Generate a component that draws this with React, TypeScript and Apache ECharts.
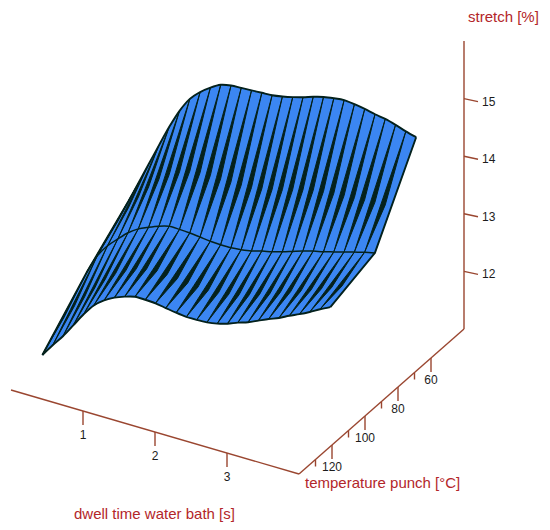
import React, { useEffect, useRef } from "react";
import * as echarts from "echarts";

// Surface
const dwellTimes = [0, 0.143, 0.286, 0.429, 0.571, 0.714, 0.857, 1, 1.143, 1.286, 1.429, 1.571, 1.714, 1.857, 2, 2.143, 2.286, 2.429, 2.571, 2.714, 2.857, 3, 3.143, 3.286, 3.429, 3.571, 3.714, 3.857, 4];
const rowTemps = [69, 94, 121];
const stretchBack = [12.48, 12.86, 13.24, 13.62, 13.99, 14.32, 14.58, 14.75, 14.88, 14.98, 15.02, 15.03, 15.04, 15.05, 15.06, 15.09, 15.13, 15.18, 15.24, 15.29, 15.32, 15.34, 15.32, 15.29, 15.25, 15.22, 15.17, 15.11, 15.06];
const stretchMid = [11.89, 12.22, 12.45, 12.62, 12.78, 12.9, 12.98, 13.05, 13.1, 13.1, 13.09, 13.07, 13.05, 13.04, 13.04, 13.06, 13.09, 13.14, 13.18, 13.23, 13.29, 13.35, 13.4, 13.44, 13.49, 13.54, 13.59, 13.64, 13.68];
const stretchFront = [11.13, 11.35, 11.56, 11.8, 12.04, 12.25, 12.39, 12.49, 12.56, 12.61, 12.61, 12.6, 12.57, 12.54, 12.52, 12.52, 12.53, 12.56, 12.61, 12.68, 12.74, 12.82, 12.9, 12.97, 13.06, 13.14, 13.23, 13.33, 13.42];
const rows = [stretchBack, stretchMid, stretchFront];

const dwellTicks = [1, 2, 3];
const tempMajorTicks = [60, 80, 100, 120];
const tempMinorTicks = [70, 90, 110, 130];
const stretchTicks = [12, 13, 14, 15];
const dwellRange = [0, 4];
const tempRange = [40, 140];
const stretchRange = [11, 16];

const BLUE = "#3b86f2";
const MESH = "#04211c";
const AXIS = "#9a4630";
const TITLE = "#b3262a";
const LABEL = "#1c1c1c";
const FONT = "'Liberation Sans', Arial, sans-serif";

// Oblique projection of (dwell, temperature, stretch) into the hidden pixel-sized cartesian axes
function project(d: number, t: number, z: number): number[] {
  return [11 + 72 * d + 1.65 * (140 - t), 390 + 21 * d - 1.45 * (140 - t) - 57.6 * (z - 11)];
}

const cells: number[][] = [];
for (let j = 0; j < rows.length - 1; j++) {
  for (let i = 0; i < dwellTimes.length - 1; i++) cells.push([i, j]);
}

const lerp = (a: number[], b: number[], f: number) => [a[0] + (b[0] - a[0]) * f, a[1] + (b[1] - a[1]) * f];

function renderCell(params: any, api: any) {
  const [i, j] = cells[params.dataIndex];
  const P = (col: number, row: number) => api.coord(project(dwellTimes[col], rowTemps[row], rows[row][col]));
  const tl = P(i, j);
  const tr = P(i + 1, j);
  const bl = P(i, j + 1);
  const br = P(i + 1, j + 1);
  const midL = lerp(tl, bl, 0.6);
  const midR = lerp(tr, br, 0.6);
  const belly = lerp(midL, midR, 0.4);
  return {
    type: "group",
    silent: true,
    children: [
      { type: "polygon", shape: { points: [tl, tr, br, bl] }, style: { fill: BLUE, stroke: BLUE, lineWidth: 0.4 } },
      { type: "polygon", shape: { points: [tl, belly, bl, midL] }, style: { fill: MESH, stroke: MESH, lineWidth: 1 } },
    ],
  };
}

function renderOutline(params: any, api: any) {
  const pts = (list: number[][]) => list.map((p) => api.coord(project(p[0], p[1], p[2])));
  const lastCol = dwellTimes.length - 1;
  const curves: number[][][] = rows.map((r, j) => dwellTimes.map((d, i) => [d, rowTemps[j], r[i]]));
  const edges: number[][][] = [
    rows.map((r, j) => [dwellTimes[0], rowTemps[j], r[0]]),
    rows.map((r, j) => [dwellTimes[lastCol], rowTemps[j], r[lastCol]]),
  ];
  const children = [...curves, ...edges].map((line, k) => ({
    type: "polyline",
    shape: { points: pts(line), smooth: k < 3 ? 0.3 : 0 },
    style: { fill: "none", stroke: MESH, lineWidth: k === 1 ? 1.5 : 1.9 },
  }));
  return { type: "group", silent: true, children };
}

function axisLines(api: any) {
  const seg = (a: number[], b: number[]) => ({
    type: "line",
    shape: { x1: a[0], y1: a[1], x2: b[0], y2: b[1] },
    style: { stroke: AXIS, lineWidth: 1.4 },
  });
  const c = (d: number, t: number, z: number) => api.coord(project(d, t, z));
  const out: any[] = [
    seg(c(dwellRange[0], tempRange[1], stretchRange[0]), c(dwellRange[1], tempRange[1], stretchRange[0])),
    seg(c(dwellRange[1], tempRange[1], stretchRange[0]), c(dwellRange[1], tempRange[0], stretchRange[0])),
    seg(c(dwellRange[1], tempRange[0], stretchRange[0]), c(dwellRange[1], tempRange[0], stretchRange[1])),
  ];
  const label = (text: string, x: number, y: number, align = "center") => ({
    type: "text",
    style: { text, x, y, align, verticalAlign: "middle", fontFamily: FONT, fontSize: 12, fill: LABEL },
  });
  dwellTicks.forEach((d) => {
    const p = c(d, tempRange[1], stretchRange[0]);
    out.push(seg(p, [p[0], p[1] + 14]), label(String(d), p[0], p[1] + 24));
  });
  tempMajorTicks.forEach((t) => {
    const p = c(dwellRange[1], t, stretchRange[0]);
    out.push(seg(p, [p[0], p[1] + 14]), label(String(t), p[0], p[1] + 22));
  });
  tempMinorTicks.forEach((t) => {
    const p = c(dwellRange[1], t, stretchRange[0]);
    out.push(seg(p, [p[0], p[1] + 7]));
  });
  stretchTicks.forEach((z) => {
    const p = c(dwellRange[1], tempRange[0], z);
    out.push(seg(p, [p[0] + 14, p[1] + 3]), label(String(z), p[0] + 18, p[1] + 3, "left"));
  });
  return out;
}

const titleStyle = (text: string) => ({ text, fontFamily: FONT, fontSize: 15, fill: TITLE });

export default function App() {
  const ref = useRef<HTMLDivElement>(null);
  useEffect(() => {
    const chart = echarts.init(ref.current!, null, { renderer: "svg" });
    chart.setOption({
      animation: false,
      backgroundColor: "#ffffff",
      grid: { left: 0, right: 0, top: 0, bottom: 0 },
      xAxis: { type: "value", min: 0, max: 550, show: false },
      yAxis: { type: "value", min: 0, max: 530, inverse: true, show: false },
      graphic: [
        { type: "text", x: 468, y: 9, silent: true, style: titleStyle("stretch [%]") },
        { type: "text", x: 305, y: 475, silent: true, style: titleStyle("temperature punch [°C]") },
        { type: "text", x: 74, y: 506, silent: true, style: titleStyle("dwell time water bath [s]") },
      ],
      series: [
        {
          type: "custom",
          coordinateSystem: "cartesian2d",
          clip: false,
          silent: true,
          data: [[0]],
          renderItem: (_p: any, api: any) => ({ type: "group", children: axisLines(api) }),
        },
        {
          type: "custom",
          coordinateSystem: "cartesian2d",
          clip: false,
          silent: true,
          data: cells,
          renderItem: renderCell,
        },
        {
          type: "custom",
          coordinateSystem: "cartesian2d",
          clip: false,
          silent: true,
          data: [[0]],
          renderItem: renderOutline,
        },
      ],
    });
    return () => chart.dispose();
  }, []);
  return <div ref={ref} style={{ position: "absolute", left: 0, top: 0, width: 550, height: 530 }} />;
}
